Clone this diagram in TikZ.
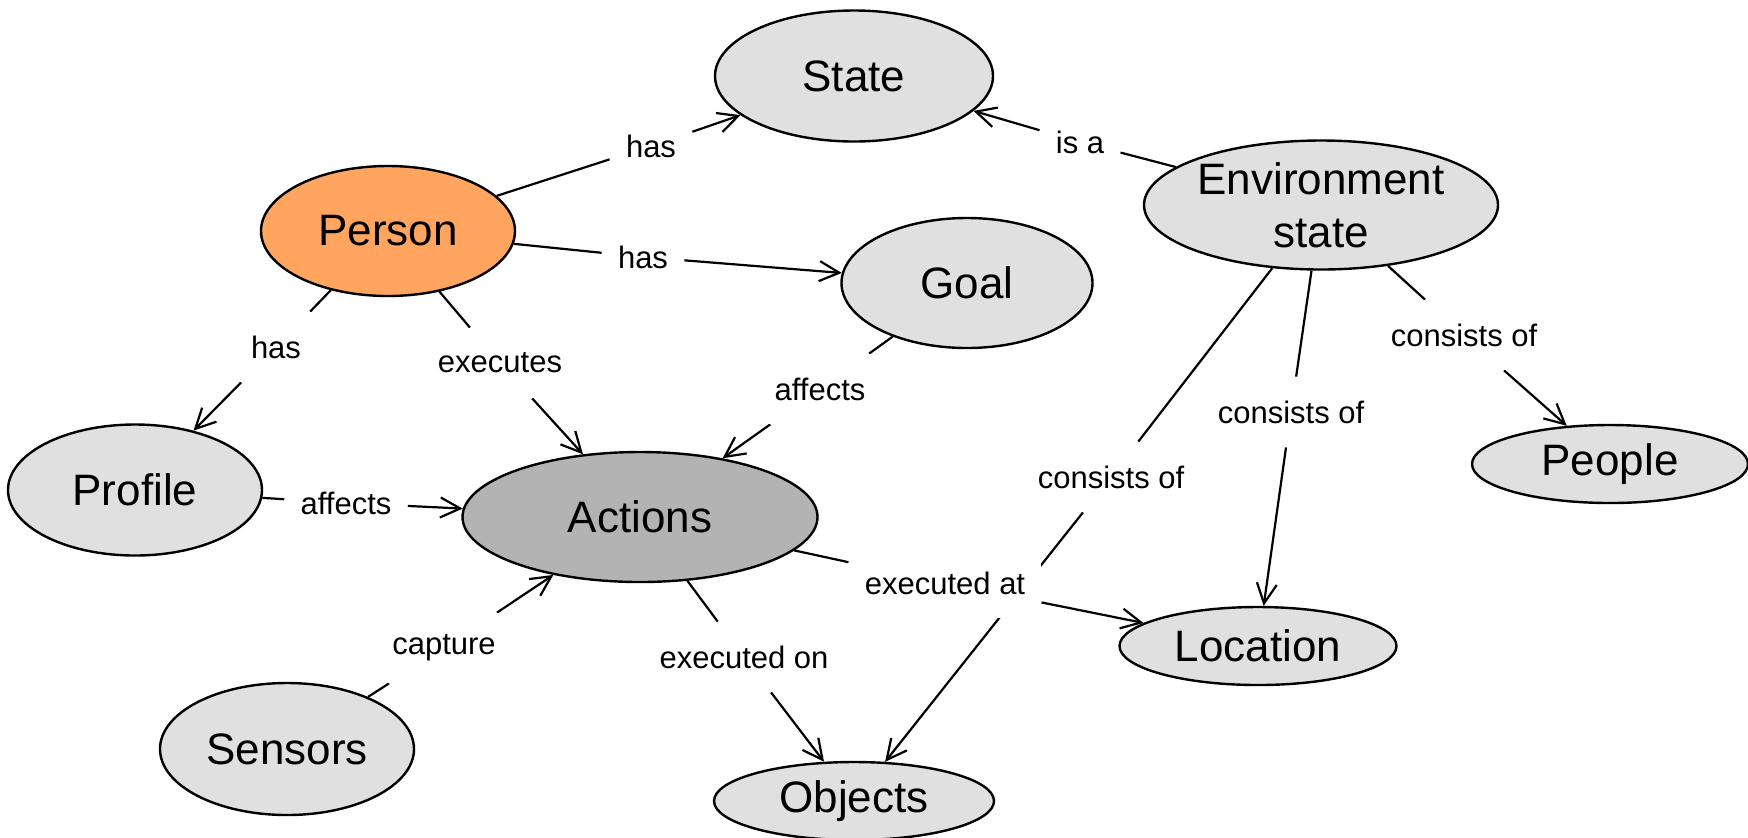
\documentclass[tikz,border=0pt]{standalone}
\usepackage{fontspec}
\setmainfont{Liberation Sans}
\usetikzlibrary{shapes.geometric,arrows.meta,backgrounds}
\definecolor{concept}{HTML}{E0E0E0}
\definecolor{personfill}{HTML}{FFA560}
\definecolor{actionfill}{HTML}{B3B3B3}

\begin{document}
\begin{tikzpicture}[x=0.5pt,y=-0.5pt,>={Straight Barb[length=10pt,width=10pt]}]
\useasboundingbox (0,0) rectangle (1748,837);

\begin{scope}[every node/.style={ellipse,draw,line width=1.2pt,fill=concept,inner sep=0pt,align=center,font=\fontsize{22}{26.5}\selectfont}]
    \node[minimum width=139pt,minimum height=65.5pt] (state) at (854,76){State};
    \node[minimum width=127pt,minimum height=65pt,fill=personfill] (person) at (388,231){Person};
    \node[minimum width=125.5pt,minimum height=65pt] (goal) at (967,283){Goal};
    \node[minimum width=177pt,minimum height=64.5pt] (env) at (1321,205){Environment\\state};
    \node[minimum width=127pt,minimum height=65.5pt] (profile) at (135,490){Profile};
    \node[minimum width=177.5pt,minimum height=65pt,fill=actionfill] (actions) at (640,517){Actions};
    \node[minimum width=127pt,minimum height=66pt] (sensors) at (287,749){Sensors};
    \node[minimum width=140pt,minimum height=39pt] (objects) at (854,801){Objects};
    \node[minimum width=138.5pt,minimum height=39pt] (location) at (1258,646){Location};
    \node[minimum width=138pt,minimum height=39pt] (people) at (1610,464){People};
\end{scope}

\begin{scope}[every node/.style={fill=white,inner xsep=8pt,inner ysep=0pt,minimum height=35pt,font=\fontsize{15.5}{18}\selectfont}]
    \node (hasstate) at (651,146){has};
    \node (hasgoal) at (643,257){has};
    \node (hasprofile) at (276,347){has};
    \node (executes) at (500,363){executes};
    \node (affectsgoal) at (820,389){affects};
    \node (isa) at (1080,142){is a};
    \node (conspeople) at (1464,335){consists of};
    \node (consloc) at (1291,412){consists of};
    \node (consobj) at (1111,477){consists of};
    \node (affectsprof) at (346,503){affects};
    \node (execat) at (945,583){executed at};
    \node (execon) at (744,657){executed on};
    \node (capture) at (444,648){capture};
\end{scope}

\begin{pgfonlayer}{background}
\begin{scope}[line width=1.1pt]
    \path (person) edge (hasstate);
    \path [->] (hasstate) edge (state);
    \path (person) edge (hasgoal);
    \path [->] (hasgoal) edge (goal);
    \path (person) edge (hasprofile);
    \path [->] (hasprofile) edge (profile);
    \path (person) edge (executes);
    \path [->] (executes) edge (actions);

    \path (goal) edge (affectsgoal);
    \path [->] (affectsgoal) edge (actions);
    \path (profile) edge (affectsprof);
    \path [->] (affectsprof) edge (actions);
    \path (sensors) edge (capture);
    \path [->] (capture) edge (actions);

    \path (env) edge (isa);
    \path [->] (isa) edge (state);
    \path (env) edge (conspeople);
    \path [->] (conspeople) edge (people);
    \path (env) edge (consloc);
    \path [->] (consloc) edge (location);
    \path (env) edge (consobj);
    \path [->] (consobj) edge (objects);

    \path (actions) edge (execat);
    \path [->] (execat) edge (location);
    \path (actions) edge (execon);
    \path [->] (execon) edge (objects);
\end{scope}
\end{pgfonlayer}

\end{tikzpicture}
\end{document}
